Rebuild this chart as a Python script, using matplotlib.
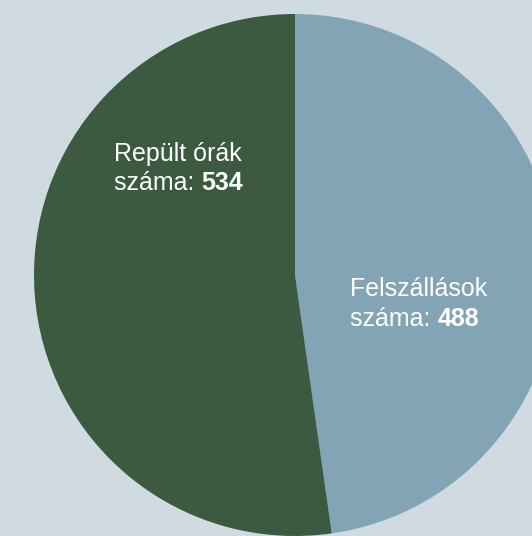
import matplotlib.pyplot as plt

# adatok
labels = ['Felszállások', 'Repült órák']
values = [488, 534]
colors = ['#83a4b4', '#3b5a40']

W, H = 532, 536
fig = plt.figure(figsize=(W / 100, H / 100), dpi=100)
fig.patch.set_facecolor('#cfdbe1')
ax = fig.add_axes([0, 0, 1, 1])
ax.set_xlim(0, W)
ax.set_ylim(0, H)
ax.set_aspect('equal')
ax.axis('off')

# kör középpontja és sugara (pixelben)
cx, cy, r = 295, H - 275, 261
ax.pie(values, colors=colors, startangle=90, counterclock=False,
       center=(cx, cy), radius=r, frame=True)
ax.set_xlim(0, W)
ax.set_ylim(0, H)
ax.axis('off')

font = 'Liberation Sans'
fs = 18
label_pos = [(350, H - 296.5), (114, H - 161.5)]
line_gap = 29

for (x, y), name, v in zip(label_pos, labels, values):
    ax.text(x, y, name, color='white', fontsize=fs, family=font,
            ha='left', va='baseline')
    t = ax.text(x, y - line_gap, 'száma: ', color='white', fontsize=fs,
                family=font, ha='left', va='baseline')
    ax.annotate(str(v), xy=(1, 0), xycoords=t, color='white', fontsize=fs,
                family=font, fontweight='bold', ha='left', va='bottom')

plt.savefig('out.png', dpi=100, facecolor=fig.get_facecolor())
